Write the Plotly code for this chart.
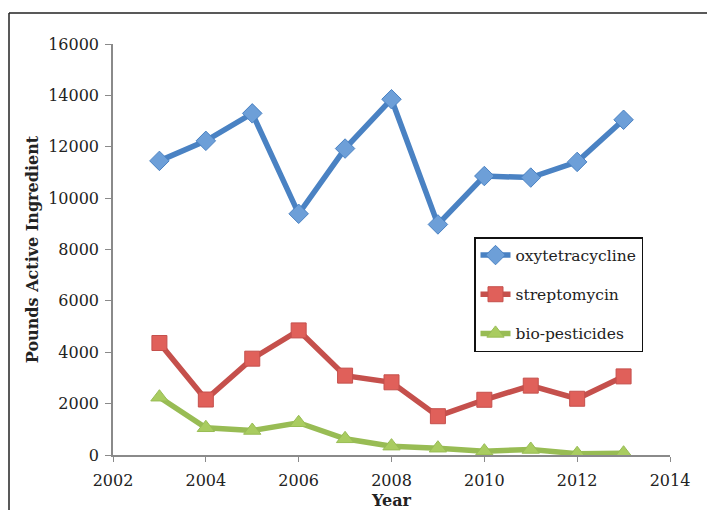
import plotly.graph_objects as go

# Annual pesticide use, pounds of active ingredient
years = [2003, 2004, 2005, 2006, 2007, 2008, 2009, 2010, 2011, 2012, 2013]
oxytetracycline = [11450, 12230, 13300, 9390, 11930, 13850, 8975, 10860, 10800, 11410, 13050]
streptomycin = [4360, 2160, 3750, 4850, 3090, 2830, 1510, 2150, 2700, 2190, 3060]
bio_pesticides = [2250, 1060, 955, 1255, 630, 345, 265, 150, 215, 50, 70]

series_names = ["oxytetracycline", "streptomycin", "bio-pesticides"]
series_values = [oxytetracycline, streptomycin, bio_pesticides]
line_colors = ["#4a82c3", "#c5504c", "#98bc54"]
marker_fills = ["#6d9fd8", "#e0605a", "#a9cc60"]
marker_symbols = ["diamond", "square", "triangle-up"]
marker_sizes = [15, 15, 15]

W, H = 707, 510
L, R, T, B = 113, 37, 44, 55
PW, PH = W - L - R, H - T - B

def px(x):
    return (x - L) / PW

def py(y):
    return 1 - (y - T) / PH

FONT = "DejaVu Serif"
TEXT = "#222222"
AXIS = "#8a8a8a"

fig = go.Figure()
for i, (name, vals) in enumerate(zip(series_names, series_values)):
    fig.add_trace(go.Scatter(
        x=years, y=vals, name=name, mode="lines+markers",
        legendgroup=name,
        line=dict(color=line_colors[i], width=5.5),
        marker=dict(symbol=marker_symbols[i], size=marker_sizes[i],
                    color=marker_fills[i],
                    line=dict(color=line_colors[i], width=1)),
    ))

fig.update_layout(
    width=W, height=H,
    margin=dict(l=L, r=R, t=T, b=B),
    paper_bgcolor="white", plot_bgcolor="white",
    font=dict(family=FONT, size=16, color=TEXT),
    showlegend=True,
    legend=dict(
        x=px(474), y=py(237), xanchor="left", yanchor="top",
        bordercolor="#111111", borderwidth=1.5, bgcolor="white",
        font=dict(family=FONT, size=15.5, color=TEXT),
        tracegroupgap=16, itemwidth=30,
    ),
    shapes=[
        # outer frame (top and left edges visible)
        dict(type="line", xref="paper", yref="paper",
             x0=px(9), x1=px(W + 5), y0=py(13), y1=py(13),
             line=dict(color="#222222", width=1.5)),
        dict(type="line", xref="paper", yref="paper",
             x0=px(9), x1=px(9), y0=py(13), y1=py(H + 5),
             line=dict(color="#222222", width=1.5)),
    ],
)

fig.update_xaxes(
    range=[2002, 2014], dtick=2, tick0=2002, automargin=False,
    showgrid=False, zeroline=False,
    showline=True, linecolor=AXIS, linewidth=1.5,
    ticks="outside", ticklen=5, tickcolor=AXIS, tickwidth=1,
    ticklabelstandoff=5,
    tickfont=dict(family=FONT, size=16, color=TEXT),
    title=dict(text="<b>Year</b>", standoff=11,
               font=dict(family=FONT, size=16, color=TEXT)),
)
fig.update_yaxes(
    range=[0, 16000], dtick=2000, tickformat="d", automargin=False,
    showgrid=False, zeroline=False,
    showline=True, linecolor=AXIS, linewidth=1.5,
    ticks="outside", ticklen=6, tickcolor=AXIS, tickwidth=1,
    ticklabelstandoff=3,
    tickfont=dict(family=FONT, size=16, color=TEXT),
    title=dict(text="<b>Pounds Active Ingredient</b>", standoff=6,
               font=dict(family=FONT, size=16, color=TEXT)),
)

fig.write_html("out.html")
